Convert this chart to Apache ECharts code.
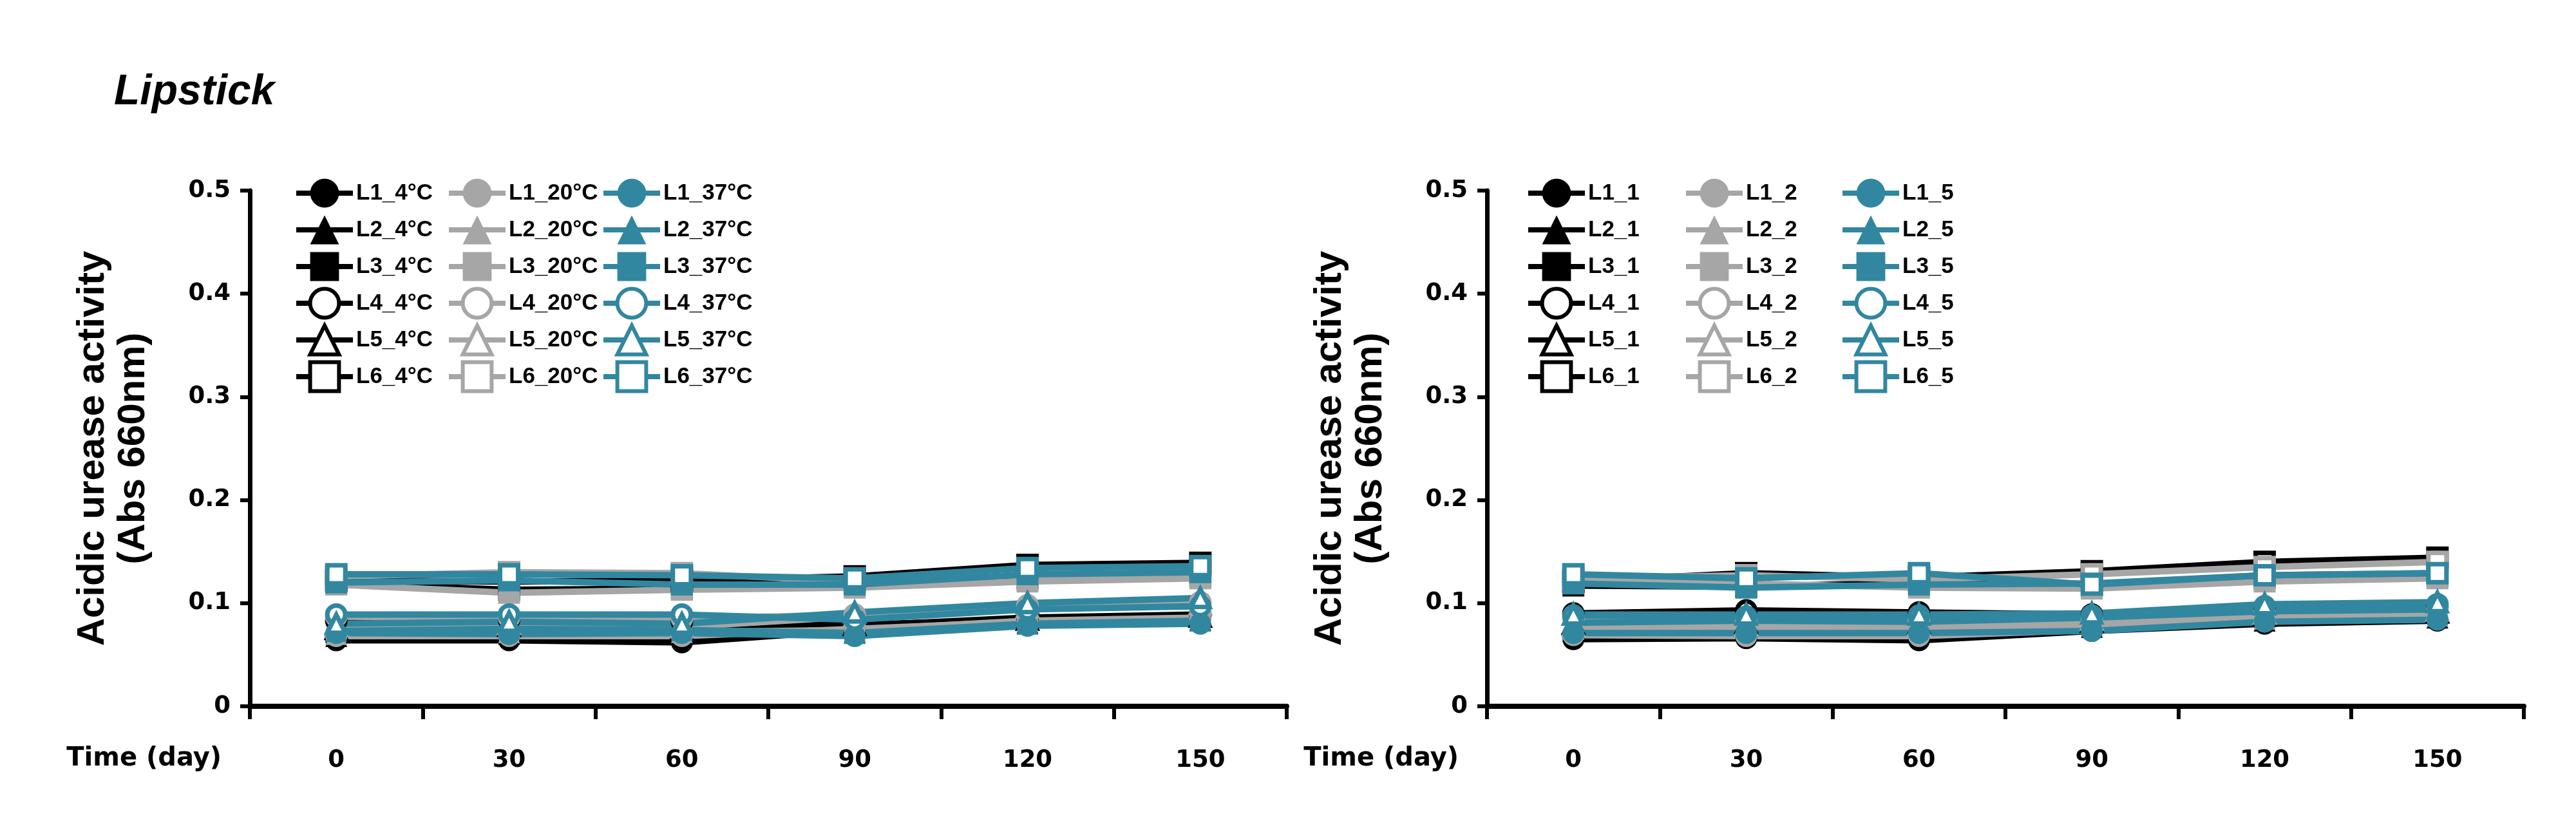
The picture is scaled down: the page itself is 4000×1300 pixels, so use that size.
<!DOCTYPE html>
<html><head><meta charset="utf-8">
<script src="https://cdn.jsdelivr.net/npm/echarts@6/dist/echarts.min.js"></script>
<style>html,body{margin:0;padding:0;background:#fff}#c{width:4000px;height:1300px}</style>
</head><body><div id="c"></div>
<script>
// ---------- categories and tick labels ----------
const days = ['0', '30', '60', '90', '120', '150'];
const yTickLabels = ['0', '0.1', '0.2', '0.3', '0.4', '0.5'];
const xTitle = 'Time (day)';
const yTitle = 'Acidic urease activity\n(Abs 660nm)';

// ---------- left panel: storage temperature ----------
const L1_4C  = [0.064, 0.064, 0.062, 0.074, 0.082, 0.086];
const L2_4C  = [0.068, 0.070, 0.070, 0.072, 0.081, 0.084];
const L3_4C  = [0.119, 0.113, 0.114, 0.120, 0.124, 0.126];
const L4_4C  = [0.083, 0.084, 0.082, 0.078, 0.086, 0.089];
const L5_4C  = [0.075, 0.078, 0.075, 0.079, 0.084, 0.087];
const L6_4C  = [0.122, 0.121, 0.122, 0.126, 0.137, 0.139];
const L1_20C = [0.068, 0.068, 0.068, 0.075, 0.082, 0.085];
const L2_20C = [0.070, 0.072, 0.072, 0.074, 0.083, 0.086];
const L3_20C = [0.118, 0.110, 0.113, 0.115, 0.121, 0.124];
const L4_20C = [0.087, 0.086, 0.085, 0.089, 0.098, 0.101];
const L5_20C = [0.078, 0.080, 0.077, 0.087, 0.096, 0.099];
const L6_20C = [0.126, 0.130, 0.129, 0.121, 0.127, 0.129];
const L1_37C = [0.071, 0.070, 0.071, 0.068, 0.078, 0.080];
const L2_37C = [0.073, 0.075, 0.074, 0.071, 0.080, 0.083];
const L3_37C = [0.120, 0.122, 0.118, 0.118, 0.128, 0.130];
const L4_37C = [0.089, 0.089, 0.089, 0.084, 0.094, 0.097];
const L5_37C = [0.080, 0.082, 0.080, 0.091, 0.100, 0.105];
const L6_37C = [0.128, 0.128, 0.127, 0.124, 0.134, 0.136];

// ---------- right panel: condition 1 / 2 / 5 ----------
const L1_1 = [0.065, 0.066, 0.064, 0.073, 0.080, 0.083];
const L2_1 = [0.073, 0.074, 0.072, 0.077, 0.083, 0.086];
const L3_1 = [0.117, 0.116, 0.120, 0.116, 0.124, 0.126];
const L4_1 = [0.090, 0.093, 0.091, 0.089, 0.094, 0.096];
const L5_1 = [0.080, 0.081, 0.080, 0.082, 0.088, 0.091];
const L6_1 = [0.121, 0.129, 0.125, 0.131, 0.140, 0.144];
const L1_2 = [0.069, 0.068, 0.068, 0.074, 0.083, 0.086];
const L2_2 = [0.075, 0.077, 0.076, 0.079, 0.085, 0.088];
const L3_2 = [0.122, 0.119, 0.115, 0.114, 0.121, 0.124];
const L4_2 = [0.086, 0.084, 0.083, 0.085, 0.091, 0.094];
const L5_2 = [0.078, 0.079, 0.079, 0.084, 0.090, 0.093];
const L6_2 = [0.124, 0.127, 0.123, 0.128, 0.135, 0.140];
const L1_5 = [0.071, 0.071, 0.071, 0.073, 0.082, 0.084];
const L2_5 = [0.081, 0.083, 0.082, 0.086, 0.092, 0.094];
const L3_5 = [0.119, 0.115, 0.118, 0.119, 0.127, 0.129];
const L4_5 = [0.088, 0.087, 0.088, 0.088, 0.097, 0.099];
const L5_5 = [0.089, 0.089, 0.089, 0.090, 0.099, 0.101];
const L6_5 = [0.128, 0.124, 0.129, 0.118, 0.127, 0.129];

// ---------- styling ----------
const C_BLACK = '#000000', C_GRAY = '#A6A6A6', C_TEAL = '#31879F';
const shapes = ['circle', 'triangle', 'rect', 'circle', 'triangle', 'rect'];
const hollow = [false, false, false, true, true, true];

const leftGroups = [
  { color: C_BLACK, names: ['L1_4°C','L2_4°C','L3_4°C','L4_4°C','L5_4°C','L6_4°C'], data: [L1_4C,L2_4C,L3_4C,L4_4C,L5_4C,L6_4C] },
  { color: C_GRAY,  names: ['L1_20°C','L2_20°C','L3_20°C','L4_20°C','L5_20°C','L6_20°C'], data: [L1_20C,L2_20C,L3_20C,L4_20C,L5_20C,L6_20C] },
  { color: C_TEAL,  names: ['L1_37°C','L2_37°C','L3_37°C','L4_37°C','L5_37°C','L6_37°C'], data: [L1_37C,L2_37C,L3_37C,L4_37C,L5_37C,L6_37C] }
];
const rightGroups = [
  { color: C_BLACK, names: ['L1_1','L2_1','L3_1','L4_1','L5_1','L6_1'], data: [L1_1,L2_1,L3_1,L4_1,L5_1,L6_1] },
  { color: C_GRAY,  names: ['L1_2','L2_2','L3_2','L4_2','L5_2','L6_2'], data: [L1_2,L2_2,L3_2,L4_2,L5_2,L6_2] },
  { color: C_TEAL,  names: ['L1_5','L2_5','L3_5','L4_5','L5_5','L6_5'], data: [L1_5,L2_5,L3_5,L4_5,L5_5,L6_5] }
];

const series = [];
const legends = [];
function addPanel(groups, gi, legendLefts) {
  groups.forEach((g, ci) => {
    const items = [];
    g.names.forEach((nm, k) => {
      const h = hollow[k];
      series.push({
        type: 'line', name: nm, xAxisIndex: gi, yAxisIndex: gi,
        data: g.data[k], symbol: shapes[k], symbolSize: h ? 28 : 34,
        itemStyle: { color: h ? '#ffffff' : g.color, borderColor: g.color, borderWidth: h ? 7 : 0 },
        lineStyle: { color: g.color, width: 10 },
        emphasis: { disabled: true }, silent: true, animation: false
      });
      items.push({
        name: nm,
        itemStyle: { color: h ? '#ffffff' : g.color, borderColor: g.color, borderWidth: h ? 6 : 0 },
        lineStyle: { color: g.color, width: 8 }
      });
    });
    legends.push({
      orient: 'vertical', left: legendLefts[ci], top: 267,
      itemWidth: 88, itemHeight: 56, itemGap: 1, selectedMode: false,
      data: items,
      textStyle: { fontFamily: '"Liberation Sans", Arial, sans-serif',
                   fontWeight: 'bold', fontSize: 35, lineHeight: 56, color: '#000', padding: [0, 0, 0, 0] }
    });
  });
}
addPanel(leftGroups, 0, [451, 688, 928]);
addPanel(rightGroups, 1, [2364, 2609, 2852]);

const tickFont = { fontFamily: '"DejaVu Sans", sans-serif', fontWeight: 'bold', fontSize: 37, color: '#000' };
function xAx(gi) {
  return {
    type: 'category', gridIndex: gi, data: days, boundaryGap: true,
    axisLine: { lineStyle: { color: '#000', width: 8 } },
    axisTick: { show: true, alignWithLabel: false, length: 20, lineStyle: { color: '#000', width: 6 } },
    axisLabel: Object.assign({ margin: 66 }, tickFont),
    splitLine: { show: false }
  };
}
function yAx(gi) {
  return {
    type: 'value', gridIndex: gi, min: 0, max: 0.5, interval: 0.1,
    axisLine: { show: true, lineStyle: { color: '#000', width: 7 } },
    axisTick: { show: true, length: 15, lineStyle: { color: '#000', width: 6 } },
    axisLabel: Object.assign({ margin: 30, formatter: (v, i) => yTickLabels[i] }, tickFont),
    splitLine: { show: false },
    name: yTitle, nameLocation: 'middle', nameRotate: 90, nameGap: 149,
    nameTextStyle: { fontFamily: '"Liberation Sans", Arial, sans-serif', fontWeight: 'bold', fontSize: 60, lineHeight: 63, color: '#000' }
  };
}

const option = {
  backgroundColor: '#ffffff',
  animation: false,
  title: { text: 'Lipstick', left: 172, top: 106,
           textStyle: { fontFamily: '"Liberation Sans", Arial, sans-serif', fontStyle: 'italic', fontWeight: 'bold', fontSize: 66, color: '#000' } },
  grid: [
    { left: 388, right: 2002, top: 296, bottom: 203 },
    { left: 2309, right: 81, top: 296, bottom: 203 }
  ],
  xAxis: [xAx(0), xAx(1)],
  yAxis: [yAx(0), yAx(1)],
  legend: legends,
  graphic: [
    { type: 'text', x: 344, y: 1179, style: { text: xTitle, align: 'right', verticalAlign: 'middle',
        font: 'bold 40px "DejaVu Sans", sans-serif', fill: '#000' } },
    { type: 'text', x: 2265, y: 1179, style: { text: xTitle, align: 'right', verticalAlign: 'middle',
        font: 'bold 40px "DejaVu Sans", sans-serif', fill: '#000' } }
  ],
  series: series
};
const chart = echarts.init(document.getElementById('c'), null, { renderer: 'canvas' });
chart.setOption(option);
</script></body></html>
